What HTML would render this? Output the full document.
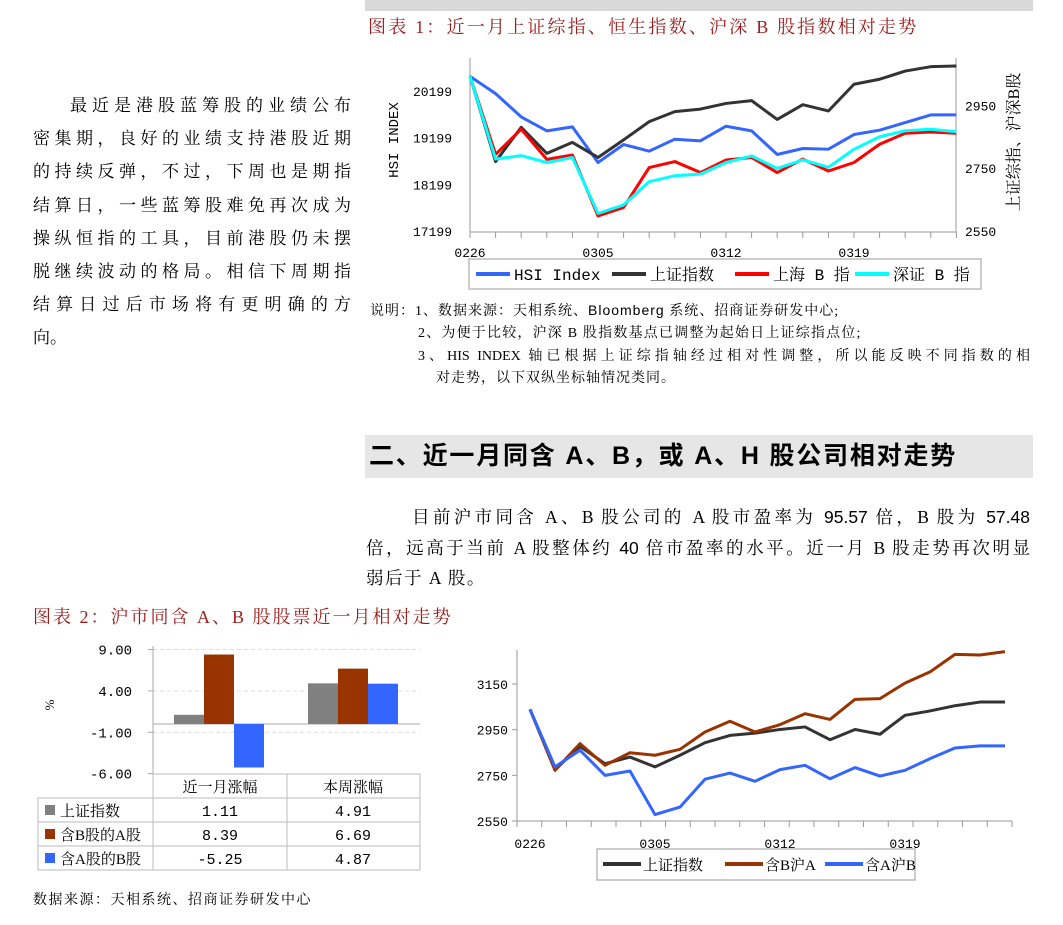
<!DOCTYPE html>
<html><head><meta charset="utf-8"><style>
body{margin:0;width:1063px;height:925px;background:#fff;position:relative;overflow:hidden;font-family:"Liberation Serif","Noto Serif CJK SC",serif;color:#000}
.abs{position:absolute}
.ln{text-align:justify;text-align-last:justify;white-space:nowrap}
.ln.last{text-align-last:left}
svg text{font-family:"Liberation Serif","Noto Serif CJK SC",serif}
svg text.mono{font-family:"Liberation Mono","Noto Serif CJK SC",monospace}
.sans{font-family:"Liberation Sans",sans-serif}
</style></head><body>
<div class="abs" style="left:365px;top:0;width:668px;height:11px;background:#d9d9d9"></div>
<div class="abs" style="left:368px;top:13px;font-size:18px;letter-spacing:2.2px;color:#9b1c1c">图表 1：近一月上证综指、恒生指数、沪深 B 股指数相对走势</div>
<div class="abs" style="left:33px;top:89px;width:318px;font-size:17px;line-height:33.2px">
<div class="ln" style="padding-left:37px">最近是港股蓝筹股的业绩公布</div>
<div class="ln">密集期，良好的业绩支持港股近期</div>
<div class="ln">的持续反弹，不过，下周也是期指</div>
<div class="ln">结算日，一些蓝筹股难免再次成为</div>
<div class="ln">操纵恒指的工具，目前港股仍未摆</div>
<div class="ln">脱继续波动的格局。相信下周期指</div>
<div class="ln">结算日过后市场将有更明确的方</div>
<div class="ln last">向。</div></div>
<div class="abs" style="left:370px;top:299px;font-size:14px;line-height:22.3px;width:665px">
<div style="letter-spacing:1px">说明：1、数据来源：天相系统、<span class="sans">Bloomberg</span> 系统、招商证券研发中心;</div>
<div style="padding-left:48px;letter-spacing:1.2px">2、为便于比较，沪深 B 股指数基点已调整为起始日上证综指点位;</div>
<div class="ln" style="padding-left:48px;width:612px">3、HIS INDEX 轴已根据上证综指轴经过相对性调整，所以能反映不同指数的相</div>
<div style="padding-left:66px;letter-spacing:1px">对走势，以下双纵坐标轴情况类同。</div></div>
<div class="abs" style="left:365px;top:435px;width:668px;height:43px;background:#e6e6e6;font-family:'Liberation Sans','Noto Sans CJK SC',sans-serif;font-weight:bold;font-size:25px;letter-spacing:1.8px;line-height:43px;padding-left:4px;box-sizing:border-box">二、近一月同含 A、B，或 A、H 股公司相对走势</div>
<div class="abs" style="left:366px;top:502px;width:664px;font-size:17.5px;line-height:30.5px">
<div class="ln" style="padding-left:46px">目前沪市同含 A、B 股公司的 A 股市盈率为 <span class="sans">95.57</span> 倍，B 股为 <span class="sans">57.48</span></div>
<div class="ln">倍，远高于当前 A 股整体约 <span class="sans">40</span> 倍市盈率的水平。近一月 B 股走势再次明显</div>
<div class="ln last" style="letter-spacing:1.5px">弱后于 A 股。</div></div>
<div class="abs" style="left:33px;top:603px;font-size:18px;letter-spacing:2px;color:#9b1c1c">图表 2：沪市同含 A、B 股股票近一月相对走势</div>
<div class="abs" style="left:33px;top:889px;font-size:14px;letter-spacing:1.5px">数据来源：天相系统、招商证券研发中心</div>

<svg class="abs" style="left:0;top:0" width="1063" height="925">
<g id="c1"></g>
<g id="c2"></g>
<g id="c3"></g>
</svg>
<script>
// ---- Chart 1 data ----
const c1Dates=["0226","0305","0312","0319"];
const c1LeftTicks=[17199,18199,19199,20199];
const c1RightTicks=[2550,2750,2950];
const hsi=[20513,20143,19644,19345,19430,18667,19052,18910,19166,19131,19444,19345,18838,18967,18952,19266,19359,19523,19687,19687];
const shComp=[3043,2771,2880,2797,2832,2784,2840,2898,2930,2938,2956,2965,2905,2952,2932,3017,3033,3059,3073,3075];
const shB=[3043,2794,2874,2778,2792,2598,2625,2752,2771,2736,2776,2784,2736,2779,2741,2768,2826,2861,2865,2861];
const szB=[3043,2779,2790,2768,2784,2606,2633,2707,2726,2731,2768,2789,2749,2776,2753,2810,2850,2869,2874,2866];
// ---- Bar chart data ----
const barCats=["近一月涨幅","本周涨幅"];
const barSeriesNames=["上证指数","含B股的A股","含A股的B股"];
const barShComp=[1.11,4.91];
const barBA=[8.39,6.69];
const barAB=[-5.25,4.87];
const barTicks=[9,4,-1,-6];
// ---- Chart 3 data ----
const c3Dates=["0226","0305","0312","0319"];
const c3Ticks=[2550,2750,2950,3150];
const c3Sh=[3039,2775,2877,2801,2830,2787,2838,2893,2925,2935,2951,2962,2906,2951,2930,3013,3032,3055,3071,3071];
const c3BA=[3039,2772,2889,2794,2849,2838,2864,2940,2987,2940,2972,3020,2995,3083,3086,3154,3203,3280,3277,3292];
const c3AB=[3039,2787,2860,2750,2769,2578,2611,2733,2760,2724,2775,2794,2735,2784,2747,2772,2823,2870,2879,2879];

const NS="http://www.w3.org/2000/svg";
function mk(parent,tag,attrs,txt){const e=document.createElementNS(NS,tag);for(const k in attrs)e.setAttribute(k,attrs[k]);if(txt!==undefined)e.textContent=txt;parent.appendChild(e);return e;}
function poly(g,pts,color,w,name){const e=mk(g,'polyline',{points:pts.join(' '),fill:'none',stroke:color,'stroke-width':w,'stroke-linejoin':'round'});

return e;}

// Chart 1
(function(){
const g=document.getElementById('c1');
const x=i=>470+i*25.6, yL=v=>231-(v-17199)*0.04667, yR=v=>231-(v-2550)*0.3142;
mk(g,'line',{x1:470,y1:58,x2:470,y2:232,stroke:'#999'});
mk(g,'line',{x1:956,y1:58,x2:956,y2:232,stroke:'#999'});
mk(g,'line',{x1:470,y1:232,x2:956,y2:232,stroke:'#999'});
for(let i=0;i<hsi.length;i++){mk(g,'line',{x1:x(i),y1:232,x2:x(i),y2:238,stroke:'#999'});}
c1LeftTicks.forEach(v=>{const t=mk(g,'text',{x:452,y:yL(v)+5,'font-size':13,'text-anchor':'end',class:'mono'},v);

});
c1RightTicks.forEach(v=>{const t=mk(g,'text',{x:965,y:yR(v)+5,'font-size':13,class:'mono'},v);

});
c1Dates.forEach((d,k)=>{const t=mk(g,'text',{x:x(k*5),y:257,'font-size':13,'text-anchor':'middle',class:'mono'},d);

});
const lt=mk(g,'text',{x:0,y:0,'font-size':14,'text-anchor':'middle',class:'mono',transform:'translate(398,140) rotate(-90)'},'HSI INDEX');


const rt=mk(g,'text',{x:0,y:0,'font-size':16,'text-anchor':'middle',transform:'translate(1019,142) rotate(-90)'},'上证综指、沪深B股');


poly(g,hsi.map((v,i)=>x(i)+','+yL(v)),'#3366ff',3,'hsi-line');
poly(g,shComp.map((v,i)=>x(i)+','+yR(v)),'#333333',3,'shanghai-composite-line');
poly(g,shB.map((v,i)=>x(i)+','+yR(v)),'#ff0000',3,'shanghai-b-line');
poly(g,szB.map((v,i)=>x(i)+','+yR(v)),'#00ffff',3,'shenzhen-b-line');
mk(g,'rect',{x:469,y:259,width:512,height:30,fill:'#fff',stroke:'#bbb','stroke-width':1.5});
const items=[['HSI Index','#3366ff',476],['上证指数','#333333',612],['上海 B 指','#ff0000',735],['深证 B 指','#00ffff',855]];
items.forEach(it=>{const l=mk(g,'line',{x1:it[2],y1:274,x2:it[2]+34,y2:274,stroke:it[1],'stroke-width':4});


const t=mk(g,'text',{x:it[2]+38,y:280,'font-size':16,class:'mono'},it[0]);

});
})();

// Bar chart
(function(){
const g=document.getElementById('c2');
const y=v=>724-v*8.28;
[9,4,-1].forEach(v=>mk(g,'line',{x1:153,y1:y(v),x2:420,y2:y(v),stroke:'#ddd','stroke-dasharray':'4,3'}));
mk(g,'line',{x1:153,y1:646,x2:153,y2:774,stroke:'#aaa'});
mk(g,'line',{x1:153,y1:724,x2:420,y2:724,stroke:'#aaa'});
barTicks.forEach(v=>{mk(g,'line',{x1:148,y1:y(v),x2:153,y2:y(v),stroke:'#aaa'});
const t=mk(g,'text',{x:132,y:y(v)+5,'font-size':14,'text-anchor':'end',class:'mono'},v.toFixed(2));

});
mk(g,'text',{x:0,y:0,'font-size':13,'text-anchor':'middle',transform:'translate(54,705) rotate(-90)'},'%');
const series=[barShComp,barBA,barAB], cols=['#808080','#993300','#3366ff'];
barCats.forEach((c,ci)=>{const cx=ci===0?219:353;
series.forEach((s,si)=>{const v=s[ci];const bx=cx-45+si*30;const r=mk(g,'rect',{x:bx,y:Math.min(y(v),y(0)),width:30,height:Math.abs(y(v)-y(0)),fill:cols[si]});

});});
const rowsY=[774,798,822,846,870];
mk(g,'rect',{x:153,y:774,width:267,height:96,fill:'none',stroke:'#bbb'});
mk(g,'rect',{x:38,y:798,width:382,height:72,fill:'none',stroke:'#bbb'});
rowsY.slice(1,4).forEach(yy=>mk(g,'line',{x1:38,y1:yy,x2:420,y2:yy,stroke:'#bbb'}));
mk(g,'line',{x1:287,y1:774,x2:287,y2:870,stroke:'#bbb'});
barCats.forEach((c,ci)=>{const t=mk(g,'text',{x:ci===0?220:353,y:792,'font-size':15,'text-anchor':'middle'},c);

});
barSeriesNames.forEach((n,si)=>{const yy=rowsY[si+1];
mk(g,'rect',{x:45,y:yy+7,width:10,height:10,fill:cols[si]});
const t=mk(g,'text',{x:60,y:yy+18,'font-size':15},n);


series[si].forEach((v,ci)=>{const tv=mk(g,'text',{x:ci===0?220:353,y:yy+18,'font-size':15,'text-anchor':'middle',class:'mono'},v.toFixed(2));

});});
})();

// Chart 3
(function(){
const g=document.getElementById('c3');
const x=i=>530+i*25, y=v=>821-(v-2550)*0.2283;
mk(g,'line',{x1:517,y1:650,x2:517,y2:821,stroke:'#999'});
mk(g,'line',{x1:517,y1:821,x2:1012,y2:821,stroke:'#999'});
for(let i=0;i<=20;i++){mk(g,'line',{x1:517+i*24.75,y1:821,x2:517+i*24.75,y2:827,stroke:'#999'});}
c3Ticks.forEach(v=>{mk(g,'line',{x1:512,y1:y(v),x2:517,y2:y(v),stroke:'#999'});
const t=mk(g,'text',{x:508,y:y(v)+5,'font-size':13,'text-anchor':'end',class:'mono'},v);

});
c3Dates.forEach((d,k)=>{const t=mk(g,'text',{x:x(k*5),y:848,'font-size':13,'text-anchor':'middle',class:'mono'},d);

});
poly(g,c3Sh.map((v,i)=>x(i)+','+y(v)),'#333333',3,'shanghai-composite-line-2');
poly(g,c3BA.map((v,i)=>x(i)+','+y(v)),'#993300',3,'b-listed-a-share-line');
poly(g,c3AB.map((v,i)=>x(i)+','+y(v)),'#3366ff',3,'a-listed-b-share-line');
mk(g,'rect',{x:597,y:849,width:318,height:31,fill:'#fff',stroke:'#bbb','stroke-width':1.5});
const items=[['上证指数','#333333',603],['含B沪A','#993300',725],['含A沪B','#3366ff',825]];
items.forEach(it=>{const l=mk(g,'line',{x1:it[2],y1:864,x2:it[2]+38,y2:864,stroke:it[1],'stroke-width':4});


const t=mk(g,'text',{x:it[2]+40,y:870,'font-size':15},it[0]);

});
})();
</script>
</body></html>
